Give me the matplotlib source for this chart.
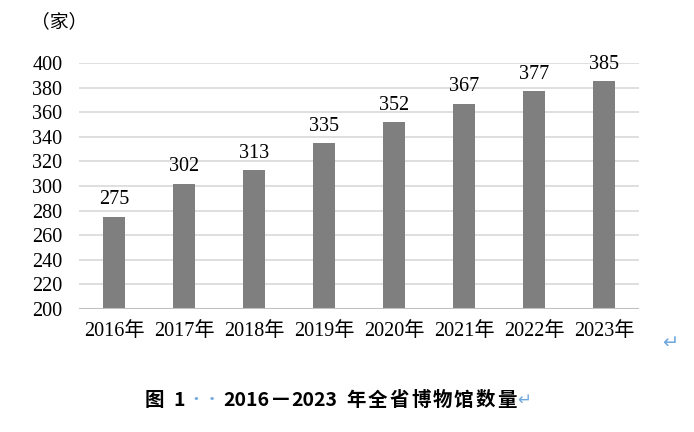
import matplotlib
matplotlib.use("Agg")
import matplotlib.pyplot as plt
from matplotlib.text import Annotation

years = ["2016年", "2017年", "2018年", "2019年", "2020年", "2021年", "2022年", "2023年"]
counts = [275, 302, 313, 335, 352, 367, 377, 385]
y_ticks = [200, 220, 240, 260, 280, 300, 320, 340, 360, 380, 400]

# caption pieces: (text, gap before in px, colour)
caption = [("图", 0, "black"), ("1", 9, "black"), ("··", 2, "#6fa8dc"),
           ("2016", 3, "black"), ("—", 2, "black"), ("2023", 2, "black"),
           ("年", 9, "black"), ("全", 2, "black"), ("省", 2, "black"),
           ("博", 2, "black"), ("物", 2, "black"), ("馆", 2, "black"),
           ("数", 2, "black"), ("量", 2, "black"), ("↵", 1, "#6fa8dc")]

SERIF = ["Liberation Serif", "Noto Sans CJK SC"]
SANS = ["Noto Sans CJK SC", "DejaVu Sans"]
BLUE = "#6fa8dc"
FS = 14.5

fig = plt.figure(figsize=(6.94, 4.32), dpi=100)
ax = fig.add_axes([79 / 694, 1 - 309 / 432, 560 / 694, 246 / 432])

x = range(len(years))
ax.bar(x, counts, width=0.31, color="#7f7f7f", zorder=3)
for xi, v in zip(x, counts):
    ax.text(xi, v + 6, str(v), ha="center", va="bottom", fontsize=FS, family=SERIF)

ax.set_xlim(-0.5, len(years) - 0.5)
ax.set_ylim(200, 400)
ax.set_yticks(y_ticks)
ax.set_yticklabels([str(t) for t in y_ticks], family=SERIF, fontsize=FS)
ax.set_xticks(list(x))
ax.set_xticklabels(years, family=SERIF, fontsize=FS)
ax.tick_params(length=0)
ax.tick_params(axis="x", pad=9)
ax.tick_params(axis="y", pad=12)
for s in ax.spines.values():
    s.set_visible(False)
ax.grid(axis="y", color="#d9d9d9", lw=1.2, zorder=0)
ax.axhline(200, color="#bfbfbf", lw=1.5, zorder=4)

fig.text(59 / 694, 1 - 22 / 432, "（家）", family=SANS, fontsize=13.5, ha="center", va="center")
fig.text(670 / 694, 1 - 343 / 432, "↵", family=SANS, fontsize=14, color=BLUE, ha="center", va="center")

# caption, built piece by piece so the spacing and colours follow the original
prev = fig.text(145 / 694, 1 - 400 / 432, caption[0][0], family=SANS, fontsize=14,
                fontweight="bold", va="center", ha="left")
for txt, gap, col in caption[1:]:
    a = Annotation(txt, xy=(1, 0.5), xycoords=prev, xytext=(gap * 0.72, 0),
                   textcoords="offset points", va="center", ha="left",
                   family=SANS, fontsize=14 if col == "black" else 12,
                   fontweight="bold" if col == "black" else "normal", color=col)
    fig.add_artist(a)
    prev = a

fig.savefig("out.png", dpi=100)
